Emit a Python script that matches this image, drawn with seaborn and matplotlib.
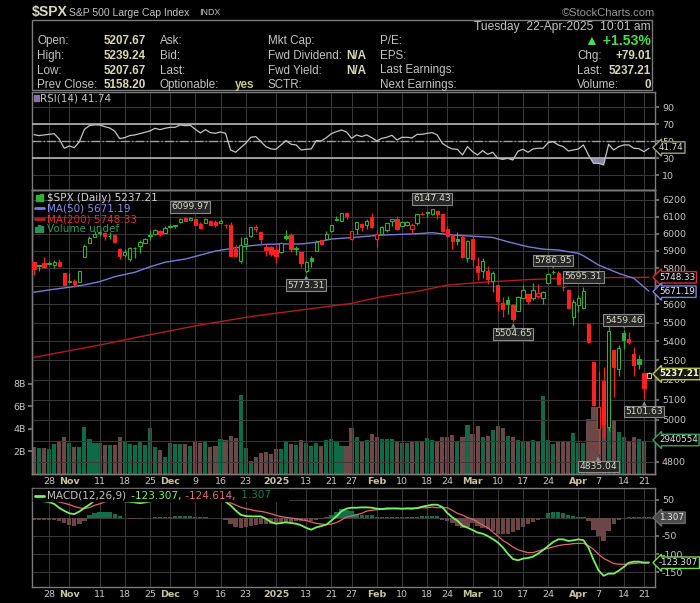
import numpy as np
import pandas as pd
import matplotlib
matplotlib.use("Agg")
import matplotlib.pyplot as plt
import seaborn as sns
from matplotlib import font_manager as fm
from matplotlib.patches import Rectangle
from matplotlib.lines import Line2D
from matplotlib.ticker import NullLocator

# ---------------------------------------------------------------- data
holidays = ["2024-11-28", "2024-12-25", "2025-01-01", "2025-01-09",
            "2025-01-20", "2025-02-17", "2025-04-18"]
dates = pd.bdate_range("2024-10-23", "2025-04-22", freq="C", holidays=holidays)
prev_close_start = 5851.20

opens = [5834.50, 5816.58, 5826.75, 5830.20, 5819.68, 5832.65, 5775.34, 5723.22, 5725.15, 5722.43,
         5864.89, 5947.21, 5976.76, 6008.86, 6003.60, 5985.75, 5989.58, 5912.79, 5874.17, 5849.67,
         5914.57, 5924.37, 5944.36, 5992.28, 6000.03, 6014.11, 6003.98, 6040.11, 6042.97, 6069.39,
         6089.03, 6081.38, 6083.99, 6057.59, 6060.15, 6074.29, 6068.17, 6063.79, 6052.55, 6047.65,
         5912.71, 5842.00, 5940.25, 5984.63, 6024.97, 6006.17, 5920.67, 5919.74, 5903.26, 5891.07,
         5982.81, 5993.26, 5910.66, 5890.66, 5782.35, 5859.99, 5896.88, 5961.53, 5969.29, 6014.12,
         6081.39, 6076.32, 6121.43, 5969.04, 6026.00, 6057.70, 6050.75, 6096.79, 5969.65, 5998.14,
         6020.45, 6072.22, 6083.13, 6046.40, 6049.32, 6025.08, 6060.59, 6115.52, 6121.60, 6117.76,
         6134.50, 6114.10, 6026.69, 5982.73, 5970.87, 5981.88, 5856.74, 5968.33, 5811.98, 5781.37,
         5785.87, 5726.01, 5705.37, 5603.65, 5624.84, 5594.45, 5563.85, 5635.60, 5654.53, 5632.37,
         5646.92, 5630.73, 5718.08, 5775.86, 5771.66, 5695.64, 5679.85, 5527.91, 5597.53, 5580.76,
         5492.74, 5292.14, 4953.79, 5193.57, 4965.28, 5353.15, 5255.56, 5441.96, 5411.99, 5335.75,
         5305.45, 5232.94, 5207.67]
highs = [5834.85, 5817.80, 5862.82, 5842.92, 5847.19, 5850.94, 5775.34, 5772.59, 5741.43, 5783.44,
         5936.14, 5983.84, 6012.45, 6017.31, 6009.92, 6008.19, 5993.88, 5915.31, 5908.12, 5920.67,
         5920.74, 5963.44, 5972.90, 6020.75, 6025.42, 6020.16, 6044.17, 6053.58, 6052.07, 6089.84,
         6092.00, 6099.97, 6088.51, 6065.40, 6092.59, 6079.68, 6078.58, 6085.19, 6057.68, 6070.67,
         5935.52, 5982.06, 5978.25, 6040.10, 6049.75, 6006.17, 5940.79, 5929.74, 5935.09, 5949.34,
         6021.04, 6000.68, 5927.89, 5890.66, 5838.79, 5871.91, 5960.61, 5964.69, 6014.96, 6051.51,
         6100.81, 6118.73, 6128.18, 6017.17, 6069.90, 6062.83, 6086.64, 6120.91, 6022.13, 6042.48,
         6062.86, 6084.03, 6101.28, 6073.38, 6076.28, 6063.00, 6116.91, 6127.47, 6129.63, 6147.43,
         6134.50, 6114.82, 6043.65, 5992.65, 6009.82, 5993.69, 5959.40, 5986.09, 5865.08, 5860.59,
         5812.08, 5783.01, 5705.37, 5636.30, 5642.19, 5597.78, 5645.27, 5703.52, 5654.53, 5715.33,
         5711.15, 5670.84, 5775.14, 5786.95, 5783.62, 5732.28, 5685.89, 5627.56, 5650.57, 5695.31,
         5499.53, 5292.14, 5246.57, 5267.47, 5481.34, 5353.15, 5381.46, 5459.46, 5450.41, 5367.24,
         5328.31, 5232.94, 5239.24]
lows = [5762.41, 5784.92, 5799.98, 5823.08, 5802.17, 5811.28, 5702.86, 5723.22, 5696.51, 5722.10,
        5864.89, 5947.21, 5976.76, 5986.69, 5960.08, 5965.91, 5942.28, 5853.01, 5865.95, 5842.60,
        5860.57, 5885.30, 5944.36, 5963.91, 5992.27, 5984.87, 6003.98, 6035.33, 6033.39, 6061.06,
        6071.00, 6079.98, 6048.63, 6030.15, 6060.15, 6051.25, 6035.77, 6059.14, 6035.19, 5867.79,
        5866.07, 5832.30, 5902.57, 5981.44, 6007.37, 5932.95, 5869.16, 5868.86, 5829.53, 5888.66,
        5960.01, 5890.68, 5874.78, 5809.55, 5773.31, 5805.32, 5896.88, 5930.24, 5969.29, 6006.88,
        6076.13, 6074.67, 6088.74, 5962.92, 5994.33, 6012.96, 6027.46, 6030.93, 5923.93, 5990.87,
        6007.06, 6046.83, 6019.96, 6044.84, 6042.34, 6003.00, 6050.95, 6107.62, 6099.51, 6111.15,
        6084.59, 6008.56, 5977.83, 5908.49, 5932.69, 5858.78, 5837.66, 5810.91, 5732.59, 5742.35,
        5711.64, 5666.29, 5564.02, 5528.41, 5546.09, 5504.65, 5563.85, 5631.12, 5597.76, 5622.20,
        5632.34, 5603.10, 5718.08, 5764.38, 5703.52, 5670.94, 5572.42, 5488.73, 5558.52, 5571.48,
        5390.83, 5069.90, 4835.04, 4910.42, 4948.43, 5115.27, 5220.77, 5358.02, 5386.44, 5220.79,
        5255.58, 5101.63, 5207.67]
closes = [5797.42, 5809.86, 5808.12, 5823.52, 5832.92, 5813.67, 5705.45, 5728.80, 5712.69, 5782.76,
          5929.04, 5973.10, 5995.54, 6001.35, 5983.99, 5985.38, 5949.17, 5870.62, 5893.62, 5916.98,
          5917.11, 5948.71, 5969.34, 5987.37, 6021.63, 5998.74, 6032.38, 6047.15, 6049.88, 6086.49,
          6075.11, 6090.27, 6052.85, 6034.91, 6084.19, 6051.25, 6051.09, 6074.08, 6050.61, 5872.16,
          5867.08, 5930.85, 5974.07, 6040.04, 6037.59, 5970.84, 5906.94, 5881.63, 5868.55, 5942.47,
          5975.38, 5909.03, 5918.25, 5827.04, 5836.22, 5842.91, 5949.91, 5937.34, 5996.66, 6049.24,
          6086.37, 6118.71, 6101.24, 6012.28, 6067.70, 6039.31, 6071.17, 6040.53, 5994.57, 6037.88,
          6061.48, 6083.57, 6025.99, 6066.44, 6068.50, 6051.97, 6115.07, 6114.63, 6129.58, 6144.15,
          6117.52, 6013.13, 5983.25, 5955.25, 5956.06, 5861.57, 5954.50, 5849.72, 5778.15, 5842.63,
          5738.52, 5770.20, 5614.56, 5572.07, 5599.30, 5521.52, 5638.94, 5675.12, 5614.66, 5675.29,
          5662.89, 5667.56, 5767.57, 5776.65, 5712.20, 5693.31, 5580.94, 5611.85, 5633.07, 5670.97,
          5396.52, 5074.08, 5062.25, 4982.77, 5456.90, 5268.05, 5363.36, 5405.97, 5396.63, 5275.70,
          5282.70, 5158.20, 5237.21]
volume_b = [2.38, 2.29, 2.29, 2.20, 2.65, 2.83, 3.27, 2.77, 2.38, 2.38,
            4.17, 3.10, 2.77, 2.77, 2.56, 2.56, 2.56, 3.27, 2.83, 2.65,
            2.56, 2.83, 2.56, 4.08, 2.38, 2.11, 1.49, 2.74, 2.65, 2.65,
            2.65, 2.47, 2.92, 2.74, 2.83, 2.38, 2.47, 3.10, 3.01, 3.36,
            3.18, 6.99, 2.29, 1.13, 1.49, 1.85, 1.93, 1.76, 2.20, 2.20,
            2.83, 2.65, 2.56, 3.01, 2.74, 2.47, 2.74, 2.47, 3.01, 3.10,
            2.83, 2.47, 2.47, 4.08, 3.27, 2.83, 3.01, 3.54, 3.27, 3.10,
            3.10, 3.10, 2.92, 2.74, 2.74, 2.83, 2.92, 2.83, 3.18, 3.01,
            2.92, 3.33, 3.27, 3.45, 2.92, 3.27, 4.35, 3.54, 4.26, 3.27,
            3.36, 3.90, 4.26, 4.08, 3.36, 3.27, 3.01, 2.92, 2.83, 3.01,
            2.83, 6.96, 3.01, 2.65, 2.83, 2.83, 2.83, 3.63, 2.74, 2.74,
            4.88, 5.95, 5.95, 5.30, 6.60, 4.76, 3.75, 3.27, 2.83, 3.27,
            3.10, 2.92, 0.0]
rsi = [57.8, 56.7, 57.5, 58.2, 59.0, 52.7, 41.8, 44.5, 42.5, 49.6,
       64.1, 68.4, 69.4, 69.2, 67.3, 65.7, 62.0, 53.1, 54.3, 56.7,
       57.5, 59.0, 60.6, 62.2, 65.3, 63.7, 65.3, 66.5, 66.5, 69.2,
       68.4, 68.8, 64.1, 59.8, 63.7, 60.2, 59.4, 61.0, 59.4, 39.8,
       37.1, 42.5, 47.6, 54.7, 55.5, 49.6, 43.7, 41.0, 40.6, 45.7,
       50.8, 46.5, 45.7, 39.8, 40.6, 41.0, 50.8, 50.4, 54.3, 59.0,
       61.4, 63.3, 61.0, 53.5, 57.5, 55.5, 57.5, 54.3, 50.4, 53.5,
       54.7, 57.1, 51.6, 54.7, 54.7, 53.9, 58.2, 58.2, 59.4, 60.2,
       57.5, 47.6, 43.7, 41.0, 40.6, 33.9, 43.7, 37.8, 33.9, 39.0,
       34.7, 37.1, 30.0, 28.8, 30.0, 28.0, 38.2, 40.6, 37.1, 41.0,
       41.8, 41.8, 48.4, 49.6, 45.7, 43.7, 38.6, 39.8, 41.0, 45.7,
       33.9, 24.1, 24.1, 22.2, 46.5, 39.8, 43.7, 45.7, 45.7, 41.8,
       41.4, 37.8, 41.74]
ma50_day = [0, 3, 7, 10, 13, 16, 20, 23, 26, 30, 33, 36, 40, 43, 46, 50, 53, 56, 59, 63,
            69, 76, 79, 83, 89, 91, 94, 98, 101, 104, 108, 109, 112, 116, 119, 122]
ma50_val = [5665, 5678, 5693, 5706, 5724, 5752, 5777, 5808, 5834, 5852,
            5875, 5898, 5917, 5929, 5937, 5939, 5939, 5949, 5968, 5976,
            5991, 5999, 6005, 5991, 5981, 5977, 5952, 5923, 5909, 5904,
            5885, 5871, 5818, 5771, 5743, 5671.19]
ma200_day = [0, 13, 21, 33, 43, 63, 69, 76, 82, 89, 99, 109, 122]
ma200_val = [5316, 5380, 5424, 5487, 5532, 5604, 5641, 5670, 5705, 5721, 5737, 5746, 5748.33]
macd = [47, 46, 45, 43, 38, 27, 19, 12, 10, 17,
        27, 36, 47, 54, 57, 58, 56, 50, 45, 44,
        42, 40, 42, 45, 50, 52, 55, 58, 60, 63,
        64, 66, 64, 60, 60, 57, 54, 52, 44, 34,
        20, 8, 4.6, 3.7, 3.7, 3.7, -2.7, -12, -16.5, -14.7,
        -12.8, -14.7, -16.5, -21, -28, -33, -26.6, -23, -19, -8,
        3.7, 18, 25, 27.5, 27.5, 28.4, 28.4, 27.5, 24.8, 23.8,
        25.7, 25.7, 25.7, 24.8, 25.7, 25.7, 26.6, 30.3, 33, 35.8,
        35.8, 29.3, 12.8, 0.9, -8.3, -22, -27.5, -34, -41, -44,
        -50.4, -58.7, -67.9, -81.6, -99, -113.7, -117.4, -112.8, -111, -107.3,
        -99, -89, -78, -67, -59.6, -59.6, -64.2, -62.4, -59.6, -62,
        -82.5, -116, -145, -160, -154, -154, -146, -136, -124, -121,
        -121, -123.8, -123.307]
signal = [52, 51, 50, 49, 47, 43, 40, 36, 31, 27,
          25, 28, 34, 38, 43, 47, 49, 49, 48, 47,
          46, 45, 44, 44, 46, 48, 50, 52, 54, 56,
          58, 60, 61, 61, 60, 58, 55, 51, 47, 41,
          35, 29, 25, 22, 19, 17.4, 14.7, 11, 6.4, 2.8,
          0.9, -1, -2.7, -5.5, -8, -12, -15.6, -17.4, -19, -17.4,
          -13.8, -6, 1.8, 4.6, 8.3, 11.9, 18.3, 20.2, 22, 22.9,
          23.8, 24.8, 24.8, 24.8, 24.8, 23.8, 25.7, 27.5, 27.5, 29.3,
          27.5, 27.5, 27.5, 20.2, 11.9, 7.3, 0, -3.7, -11.9, -20.2,
          -27.5, -39.4, -50.4, -62.4, -70.6, -80.7, -88, -92.6, -96.3, -96.3,
          -91.7, -88, -84.4, -80.7, -77, -74.3, -73.4, -71.5, -70.6, -70.6,
          -77, -87, -101, -112, -119, -126.5, -128, -128.4, -127.5, -126,
          -124.7, -124.7, -124.614]
hist = [-5, -5, -5, -6, -6, -9, -15, -21, -24, -17,
        -8, 8, 14, 16, 16, 16, 11, 4, -2, -3,
        -4, -3, -2, -1, 1, 2, 3, 3, 4, 5,
        4, 4, 3, 1, 1, -1, -2, -2, -5, -18,
        -27, -28, -26, -24, -20, -18, -17, -16, -15, -13,
        -12, -11, -10, -9, -10, -10, -7, -3, 1, 8,
        16, 24, 22, 18, 9, 8, 8, 7, 2, 1,
        1, 1, 1, 1, 1, 1, 3, 4, 5, 5,
        4, -6, -10, -14, -23, -28, -26, -14, -23, -28,
        -32, -37, -44, -46, -44, -39, -35, -26, -18, -11,
        -5, -1, 14, 17, 17, 14, 7, 5, 3, 2,
        -10, -34, -50, -64, -37, -18, -5, -1, 3, 3,
        3, 2, 1.307]

tick_dates = ["2024-10-28", "2024-11-01", "2024-11-11", "2024-11-18", "2024-11-25",
              "2024-12-02", "2024-12-09", "2024-12-16", "2024-12-23", "2025-01-02",
              "2025-01-13", "2025-01-21", "2025-01-27", "2025-02-03", "2025-02-10",
              "2025-02-18", "2025-02-24", "2025-03-03", "2025-03-10", "2025-03-17",
              "2025-03-24", "2025-04-01", "2025-04-07", "2025-04-14", "2025-04-21"]
tick_text = ["28", "Nov", "11", "18", "25", "Dec", "9", "16", "23", "2025", "13", "21", "27",
             "Feb", "10", "18", "24", "Mar", "10", "17", "24", "Apr", "7", "14", "21"]
month_text = {"Nov", "Dec", "2025", "Feb", "Mar", "Apr"}

price_ticks = [4800, 4900, 5000, 5100, 5200, 5300, 5400, 5500, 5600, 5700,
               5800, 5900, 6000, 6100, 6200]
price_hidden = {4900, 5700}          # covered by value tags in the reference
vol_ticks_b = [2, 4, 6, 8]
rsi_ticks = [10, 30, 50, 70, 90]
macd_ticks = [50, 0, -50, -100, -150]

swing_dates = ["2024-12-06", "2025-01-13", "2025-02-19", "2025-03-13", "2025-03-25",
               "2025-04-02", "2025-04-07", "2025-04-14", "2025-04-21"]
swing_kind = ["H", "L", "H", "L", "H", "H", "L", "H", "L"]

hdr_labels1 = ["Open:", "High:", "Low:", "Prev Close:"]
hdr_values1 = ["5207.67", "5239.24", "5207.67", "5158.20"]
hdr_labels2 = ["Ask:", "Bid:", "Last:", "Optionable:"]
hdr_values2 = ["", "", "", "yes"]
hdr_labels3 = ["Mkt Cap:", "Fwd Dividend:", "Fwd Yield:", "SCTR:"]
hdr_values3 = ["", "N/A", "N/A", ""]
hdr_labels4 = ["P/E:", "EPS:", "Last Earnings:", "Next Earnings:"]
hdr_labels5 = ["", "Chg:", "Last:", "Volume:"]
hdr_values5 = ["\u25B2 +1.53%", "+79.01", "5237.21", "0"]

# ---------------------------------------------------------------- style
sns.set_theme(style="dark", rc={
    "figure.facecolor": "black", "axes.facecolor": "black",
    "axes.edgecolor": "#7a7a7a", "axes.linewidth": 1.0,
    "grid.color": "#3a3a3a", "grid.linewidth": 0.7,
    "xtick.color": "#7a7a7a", "ytick.color": "#7a7a7a",
    "text.color": "#c8c8c8", "axes.labelcolor": "#c8c8c8",
})
plt.rcParams["font.family"] = ["DejaVu Sans"]

names = {f.name for f in fm.fontManager.ttflist}
if "Liberation Sans Narrow" in names:
    NARROW, NS = "Liberation Sans Narrow", 1.0
else:
    NARROW, NS = "Liberation Sans", 0.84
HFAM = [NARROW, "DejaVu Sans"]
HS = 10.0 * NS

LBL = "#c4c4c4"
VAL = "#d8d8b4"
TICKC = "#c8c8c8"
GREEN_C = "#33ad33"
RED_C = "#ff2020"
LAST_C = "#c8d030"
VOL_UP = "#0f6b47"
VOL_DN = "#6b4747"

W, H = 700, 603
fig = plt.figure(figsize=(W / 100, H / 100), dpi=100)
fig.patch.set_facecolor("black")


def fx(v):
    return v / W


def fy(v):
    return 1 - v / H


def axes_px(x0, y0, x1, y1):
    return fig.add_axes([fx(x0), fy(y1), (x1 - x0) / W, (y1 - y0) / H])


def T(x, y, s, **kw):
    kw.setdefault("va", "center")
    kw.setdefault("zorder", 5)
    return fig.text(fx(x), fy(y), s, **kw)


def R(x0, y0, w, h, color, z=4, **kw):
    fig.add_artist(Rectangle((fx(x0), fy(y0 + h)), w / W, h / H,
                             transform=fig.transFigure, color=color, zorder=z, **kw))


def L(x0, x1, y, color, lw=1.5):
    fig.add_artist(Line2D([fx(x0), fx(x1)], [fy(y), fy(y)],
                          transform=fig.transFigure, color=color, lw=lw, zorder=5))


n = len(dates)
x = np.arange(n)
opens, highs, lows, closes = map(np.asarray, (opens, highs, lows, closes))
tick_pos = dates.get_indexer(pd.to_datetime(tick_dates))
XL = (-0.4, 123.2)


def style_xticks(a, show):
    a.set_xticks(tick_pos)
    a.set_xlim(*XL)
    if show:
        a.set_xticklabels(tick_text)
        for t in a.get_xticklabels():
            if t.get_text() in month_text:
                t.set_fontweight("bold")
                t.set_color("#c8c4a0")
            else:
                t.set_color(TICKC)
        a.tick_params(axis="x", length=0, pad=2, labelsize=6.8)
    else:
        a.tick_params(axis="x", length=0, labelbottom=False)
    a.set_xlabel("")


# ---------------------------------------------------------------- header
fig.add_artist(Rectangle((fx(32), fy(90)), 620 / W, 70 / H, transform=fig.transFigure,
                         fill=False, ec="#7a7a7a", lw=1, zorder=2))
T(32, 12, "$SPX", fontsize=12 * NS, fontweight="bold", color="#d8d8c0", family=HFAM)
T(69, 12.5, "S&P 500 Large Cap Index", fontsize=8.9 * NS, color=LBL, family=HFAM)
T(199, 12.5, "INDX", fontsize=7.6 * NS, color=LBL, family=HFAM)
T(655, 12.5, "\u00A9StockCharts.com", fontsize=9.5 * NS, color="#9a9a9a", family=HFAM, ha="right")
T(651, 27, "Tuesday  22-Apr-2025  10:01 am", fontsize=10.3 * NS, color=LBL, family=HFAM, ha="right")
rows_y = [41, 56, 70.5, 85]
for i, yy in enumerate(rows_y):
    T(37, yy, hdr_labels1[i], fontsize=HS, color=LBL, family=HFAM)
    T(146, yy, hdr_values1[i], fontsize=HS, color=VAL, family=HFAM, ha="right",
      fontweight="bold")
    T(160, yy, hdr_labels2[i], fontsize=HS, color=LBL, family=HFAM)
    if hdr_values2[i]:
        T(254, yy, hdr_values2[i], fontsize=HS, color="#c8c88c", family=HFAM,
          ha="right", fontweight="bold")
    T(268, yy, hdr_labels3[i], fontsize=HS, color=LBL, family=HFAM)
    if hdr_values3[i]:
        T(366, yy, hdr_values3[i], fontsize=HS, color=VAL, family=HFAM, ha="right",
          fontweight="bold")
    T(380, yy, hdr_labels4[i], fontsize=HS, color=LBL, family=HFAM)
    if hdr_labels5[i]:
        T(577, yy, hdr_labels5[i], fontsize=HS, color=LBL, family=HFAM)
    if i == 0:
        T(651, yy, hdr_values5[i], fontsize=12 * NS, color="#4cdc4c", family=HFAM,
          ha="right", fontweight="bold")
    else:
        T(651, yy, hdr_values5[i], fontsize=HS, color=VAL, family=HFAM, ha="right",
          fontweight="bold")

# ---------------------------------------------------------------- RSI panel
ax_r = axes_px(32, 92, 655, 190)
rsi_a = np.asarray(rsi)
ax_r.fill_between(x, rsi_a, 30, where=rsi_a < 30, interpolate=True, color="#8585aa", lw=0, zorder=2)
sns.lineplot(x=x, y=rsi_a, ax=ax_r, color="#c4c4c4", lw=0.9, zorder=4)
ax_r.axhline(70, color="#b4b4b4", lw=1.2, zorder=3)
ax_r.axhline(30, color="#b4b4b4", lw=1.2, zorder=3)
ax_r.axhline(50, color="#a0a0a0", lw=1.0, ls="-.", zorder=3)
ax_r.set_ylim(-7.3, 108)
ax_r.set_yticks(rsi_ticks)
ax_r.set_yticklabels([str(v) for v in rsi_ticks])
ax_r.yaxis.tick_right()
ax_r.tick_params(axis="y", length=3, pad=2, labelsize=6.8, labelcolor=TICKC)
ax_r.grid(True, color="#3a3a3a", lw=0.7)
ax_r.set_ylabel("")
style_xticks(ax_r, False)
R(34, 95, 5, 6, "#8a70a0", z=5)
T(40, 98.5, "RSI(14) 41.74", fontsize=7.5, color=LBL)

# ---------------------------------------------------------------- price panel
ax = axes_px(32, 190, 655, 474)
axv = ax.twinx()
ax.set_zorder(1)
axv.set_zorder(0.5)
ax.patch.set_visible(False)

vol_dir = np.where(closes >= np.concatenate([[prev_close_start], closes[:-1]]), "up", "dn")
sns.barplot(x=x, y=np.asarray(volume_b) * 1e9, hue=vol_dir, palette={"up": VOL_UP, "dn": VOL_DN},
            native_scale=True, dodge=False, width=0.82, errorbar=None, legend=False,
            saturation=1, linewidth=0, ax=axv)
axv.set_ylim(0, 25.24e9)
axv.set_yticks([v * 1e9 for v in vol_ticks_b])
axv.set_yticklabels([f"{v}B" for v in vol_ticks_b])
axv.yaxis.tick_left()
axv.tick_params(axis="y", length=3, pad=1.5, labelsize=6.8, labelcolor=TICKC)
axv.set_ylabel("")
axv.grid(False)

ax.set_yscale("log")
ax.set_ylim(4742.7, 6260.9)
sns.lineplot(x=ma200_day, y=ma200_val, ax=ax, color="#b51c1c", lw=1.0, zorder=2)
sns.lineplot(x=ma50_day, y=ma50_val, ax=ax, color="#7a7ad8", lw=1.0, zorder=2)

prev_close = np.concatenate([[prev_close_start], closes[:-1]])
cand_col = np.where(closes >= prev_close, GREEN_C, RED_C).astype(object)
cand_col[-1] = LAST_C
hollow = closes >= opens
body_lo = np.minimum(opens, closes)
body_h = np.maximum(np.abs(closes - opens), 1.2)
ax.vlines(x, lows, highs, colors=list(cand_col), lw=0.9, zorder=3)
ax.bar(x, body_h, bottom=body_lo, width=0.66,
       color=["black" if h else c for h, c in zip(hollow, cand_col)],
       edgecolor=list(cand_col), linewidth=0.8, zorder=4)

ax.set_yticks(price_ticks)
ax.yaxis.set_minor_locator(NullLocator())
ax.set_yticklabels(["" if v in price_hidden else str(v) for v in price_ticks])
ax.yaxis.tick_right()
ax.tick_params(axis="y", which="both", length=3, pad=2, labelsize=6.8, labelcolor=TICKC)
ax.grid(True, which="major", color="#3a3a3a", lw=0.7)
ax.set_ylabel("")
style_xticks(ax, True)

swing_pos = dates.get_indexer(pd.to_datetime(swing_dates))
for p, k in zip(swing_pos, swing_kind):
    val = highs[p] if k == "H" else lows[p]
    off = 7.2 if k == "H" else -8.8
    ax.annotate(f"{val:.2f}", xy=(p, val), xytext=(0, off), textcoords="offset points",
                ha="center", va="center", fontsize=6.6, color="#d8d8c8", zorder=10,
                annotation_clip=False,
                bbox=dict(boxstyle="square,pad=0.15", fc="#262626", ec="#8a8a8a", lw=0.8))
    ax.annotate("\u25BC" if k == "H" else "\u25B2", xy=(p, val),
                xytext=(0, 2.6 if k == "H" else -3.2), textcoords="offset points",
                ha="center", va="center", fontsize=4.2, color="#8a8a8a", zorder=9)

# legend of price panel
R(36, 194.5, 2.5, 6, "#33ad33", z=5)
R(40, 193.5, 2.5, 7, "#33ad33", z=5)
T(47, 198, "$SPX (Daily) 5237.21", fontsize=7.5, color="#d4d4d4")
L(35, 44, 208.5, "#7a7ad8", lw=2)
T(47, 208.5, "MA(50) 5671.19", fontsize=7.5, color="#8c8ce8")
L(35, 44, 219.3, "#c02020", lw=2)
T(47, 219.3, "MA(200) 5748.33", fontsize=7.5, color="#d03434")
R(35, 227, 2, 5, "#2f8f5a", z=5)
R(38, 225, 2, 7, "#2f8f5a", z=5)
R(41, 226, 2, 6, "#2f8f5a", z=5)
T(47, 229.5, "Volume undef", fontsize=7.5, color="#2f9a5e")

# ---------------------------------------------------------------- MACD panel
ax_m = axes_px(32, 488, 655, 587)
hist_a = np.asarray(hist)
sns.barplot(x=x, y=hist_a, hue=np.where(hist_a >= 0, "pos", "neg"),
            palette={"pos": "#10704a", "neg": "#6c4646"}, native_scale=True, dodge=False,
            width=0.85, errorbar=None, legend=False, saturation=1, linewidth=0, ax=ax_m)
sns.lineplot(x=x, y=signal, ax=ax_m, color="#e06868", lw=0.9, zorder=4)
sns.lineplot(x=x, y=macd, ax=ax_m, color="#7cf060", lw=1.3, zorder=5)
ax_m.set_ylim(-190.9, 81.8)
ax_m.set_yticks(macd_ticks)
ax_m.set_yticklabels(["" if v == 0 else str(v) for v in macd_ticks])
ax_m.yaxis.tick_right()
ax_m.tick_params(axis="y", length=3, pad=2, labelsize=6.8, labelcolor=TICKC)
ax_m.grid(True, color="#3a3a3a", lw=0.7)
ax_m.set_axisbelow(True)
ax_m.set_ylabel("")
style_xticks(ax_m, True)

R(33, 489, 255, 11.5, "black", z=2)
L(35, 44, 495.5, "#7cf060", lw=2)
renderer = fig.canvas.get_renderer()
xx = 47
for s, c in [("MACD(12,26,9)", LBL), (" -123.307,", "#7cf060"),
             (" -124.614,", "#e07070"), (" 1.307", "#1f7a50")]:
    t = T(xx, 495.5, s, fontsize=7.5, color=c, ha="left", zorder=6)
    xx += t.get_window_extent(renderer).width + 1.5

# ---------------------------------------------------------------- right tags


def tag(y, s, ec, tc, fc="black", bold=False):
    T(659, y, s, ha="left", fontsize=6.3, color=tc, fontweight="bold" if bold else "normal",
      bbox=dict(boxstyle="larrow,pad=0.14", fc=fc, ec=ec, lw=1.0), zorder=8)


tag(147.5, "41.74", "#a0a080", "#e0e0c8")
tag(277.3, "5748.33", "#d03030", "#ececec")
tag(291.7, "5671.19", "#8080e0", "#ececff")
tag(374, "5237.21", "#b8c848", "#f4f4e4", fc="#1a1a08", bold=True)
tag(440, "2940554", "#3aa060", "#dce8dc")
tag(517.7, "1.307", "#6a6a6a", "#f0f0f0", fc="#4a4a4a")
tag(562.7, "-123.307", "#70e050", "#ececec")

fig.savefig("out.png", dpi=100, facecolor="black")
